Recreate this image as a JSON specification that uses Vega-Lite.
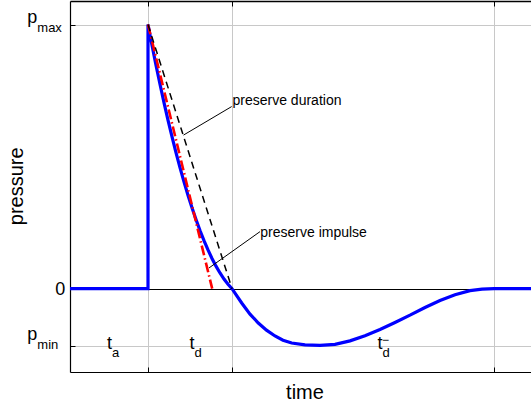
{
  "$schema": "https://vega.github.io/schema/vega-lite/v6.json",
  "width": 461,
  "height": 371,
  "autosize": {"type": "none"},
  "padding": {"left": 70, "top": 1, "right": 0, "bottom": 34},
  "background": "white",
  "config": {"view": {"stroke": null}, "font": "Liberation Sans"},
  "datasets": {
    "blast": [
      {"t": 0, "p": 0}, {"t": 78, "p": 0}, {"t": 78, "p": 1},
      {"t": 82, "p": 0.9216}, {"t": 86, "p": 0.8462}, {"t": 90, "p": 0.7739}, {"t": 94, "p": 0.7045},
      {"t": 98, "p": 0.6383}, {"t": 102, "p": 0.5754}, {"t": 106, "p": 0.5152}, {"t": 110, "p": 0.4583},
      {"t": 114, "p": 0.4045}, {"t": 118, "p": 0.3538}, {"t": 122, "p": 0.3061}, {"t": 126, "p": 0.2617},
      {"t": 130, "p": 0.2201}, {"t": 134, "p": 0.1818}, {"t": 138, "p": 0.1466}, {"t": 142, "p": 0.1144},
      {"t": 146, "p": 0.0852}, {"t": 150, "p": 0.0595}, {"t": 154, "p": 0.0364}, {"t": 158, "p": 0.0167},
      {"t": 162, "p": 0}, {"t": 166, "p": -0.0227}, {"t": 171.7, "p": -0.0542}, {"t": 180, "p": -0.0966},
      {"t": 188.3, "p": -0.1299}, {"t": 196.5, "p": -0.1572}, {"t": 205, "p": -0.1792}, {"t": 213, "p": -0.1951},
      {"t": 221.7, "p": -0.2057}, {"t": 235, "p": -0.2129}, {"t": 250, "p": -0.2148}, {"t": 265, "p": -0.2106},
      {"t": 280, "p": -0.1977}, {"t": 295, "p": -0.178}, {"t": 310, "p": -0.1545}, {"t": 325, "p": -0.128},
      {"t": 340, "p": -0.1004}, {"t": 355, "p": -0.0712}, {"t": 370, "p": -0.0447}, {"t": 385, "p": -0.0227},
      {"t": 400, "p": -0.0076}, {"t": 412, "p": -0.0019}, {"t": 424, "p": 0}, {"t": 461, "p": 0}
    ],
    "duration": [{"t": 78, "p": 1}, {"t": 162, "p": 0}],
    "impulse": [{"t": 78, "p": 1}, {"t": 142.2, "p": 0}],
    "leaders": [
      {"t": 113.5, "p": 0.5814, "t2": 161.7, "p2": 0.6894},
      {"t": 139, "p": 0.0784, "t2": 190, "p2": 0.2159}
    ],
    "notes": [
      {"note": "preserve duration", "t": 162.5, "p": 0.695},
      {"note": "preserve impulse", "t": 190.3, "p": 0.1958}
    ],
    "labels": [
      {"lab": "p", "sub": "max", "t": -42.7, "p": 1.0076},
      {"lab": "0", "t": -14.8, "p": -0.0258},
      {"lab": "p", "sub": "min", "t": -42.7, "p": -0.195},
      {"lab": "t", "sub": "a", "t": 37, "p": -0.227},
      {"lab": "t", "sub": "d", "t": 119.5, "p": -0.227},
      {"lab": "t", "sub": "d", "sup": "−", "t": 307.4, "p": -0.227}
    ]
  },
  "layer": [
    {
      "encoding": {
        "x": {
          "field": "t", "type": "quantitative",
          "scale": {"domain": [0, 461], "nice": false, "zero": false},
          "axis": {
            "orient": "bottom", "values": [78, 162, 424], "labels": false,
            "grid": true, "gridColor": "#c8c8c8", "gridWidth": 1,
            "domainColor": "black", "domainWidth": 1.2, "tickColor": "black", "tickSize": -5,
            "title": "time", "titleFont": "Liberation Sans", "titleFontSize": 20, "titleFontWeight": "normal",
            "titleColor": "black", "titleX": 234.5, "titleY": 26, "titleAlign": "center", "titleBaseline": "alphabetic"
          }
        },
        "y": {
          "field": "p", "type": "quantitative",
          "scale": {"domain": [-0.3155, 1.089], "nice": false, "zero": false},
          "axis": {
            "orient": "left", "values": [1, 0, -0.2159], "labels": false,
            "grid": true,
            "gridColor": {"condition": {"test": "datum.value === 0", "value": "black"}, "value": "#c8c8c8"},
            "gridWidth": 1,
            "domainColor": "black", "domainWidth": 1.2, "tickColor": "black", "tickSize": -5,
            "title": "pressure", "titleFont": "Liberation Sans", "titleFontSize": 20, "titleFontWeight": "normal",
            "titleColor": "black", "titleX": -47.5, "titleY": 184.8, "titleAngle": 270, "titleAlign": "center",
            "titleBaseline": "alphabetic"
          }
        }
      },
      "layer": [
        {
          "data": {"name": "blast"},
          "mark": {"type": "line", "color": "#0000ff", "strokeWidth": 3.2, "clip": true},
          "encoding": {"order": {"value": null}}
        },
        {
          "data": {"name": "impulse"},
          "mark": {"type": "line", "color": "#ff0000", "strokeWidth": 2.6, "strokeDash": [10, 3, 1.5, 3]},
          "encoding": {}
        },
        {
          "data": {"name": "leaders"},
          "mark": {"type": "rule", "color": "black", "strokeWidth": 1},
          "encoding": {"x2": {"field": "t2"}, "y2": {"field": "p2"}}
        },
        {
          "data": {"name": "notes"},
          "mark": {"type": "text", "align": "left", "baseline": "alphabetic", "fontSize": 14, "color": "black", "font": "Liberation Sans"},
          "encoding": {"text": {"field": "note"}}
        },
        {
          "data": {"name": "labels"},
          "mark": {"type": "text", "align": "left", "baseline": "alphabetic", "fontSize": 18, "color": "black", "font": "Liberation Sans"},
          "encoding": {"text": {"field": "lab"}}
        },
        {
          "data": {"name": "labels"},
          "transform": [{"filter": "datum.lab === 'p'"}],
          "mark": {"type": "text", "align": "left", "baseline": "alphabetic", "fontSize": 13, "color": "black", "font": "Liberation Sans", "dx": 10, "dy": 9},
          "encoding": {"text": {"field": "sub"}}
        },
        {
          "data": {"name": "labels"},
          "transform": [{"filter": "datum.lab === 't'"}],
          "mark": {"type": "text", "align": "left", "baseline": "alphabetic", "fontSize": 13, "color": "black", "font": "Liberation Sans", "dx": 5, "dy": 8.5},
          "encoding": {"text": {"field": "sub"}}
        },
        {
          "data": {"name": "labels"},
          "transform": [{"filter": "isValid(datum.sup)"}],
          "mark": {"type": "text", "align": "left", "baseline": "alphabetic", "fontSize": 12, "color": "black", "font": "Liberation Sans", "dx": 4.5, "dy": -5},
          "encoding": {"text": {"field": "sup"}}
        }
      ]
    },
    {
      "data": {"name": "duration"},
      "mark": {"type": "line", "color": "black", "strokeWidth": 1.5, "strokeDash": [7, 5]},
      "encoding": {
        "x": {
          "field": "t", "type": "quantitative",
          "scale": {"domain": [0, 461], "nice": false, "zero": false},
          "axis": {
            "orient": "top", "values": [78, 162, 424], "labels": false, "grid": false,
            "domainColor": "black", "domainWidth": 1.6, "tickColor": "black", "tickSize": -5, "title": null
          }
        },
        "y": {
          "field": "p", "type": "quantitative",
          "scale": {"domain": [-0.3155, 1.089], "nice": false, "zero": false},
          "axis": null
        }
      }
    }
  ],
  "resolve": {"axis": {"x": "independent", "y": "independent"}}
}
